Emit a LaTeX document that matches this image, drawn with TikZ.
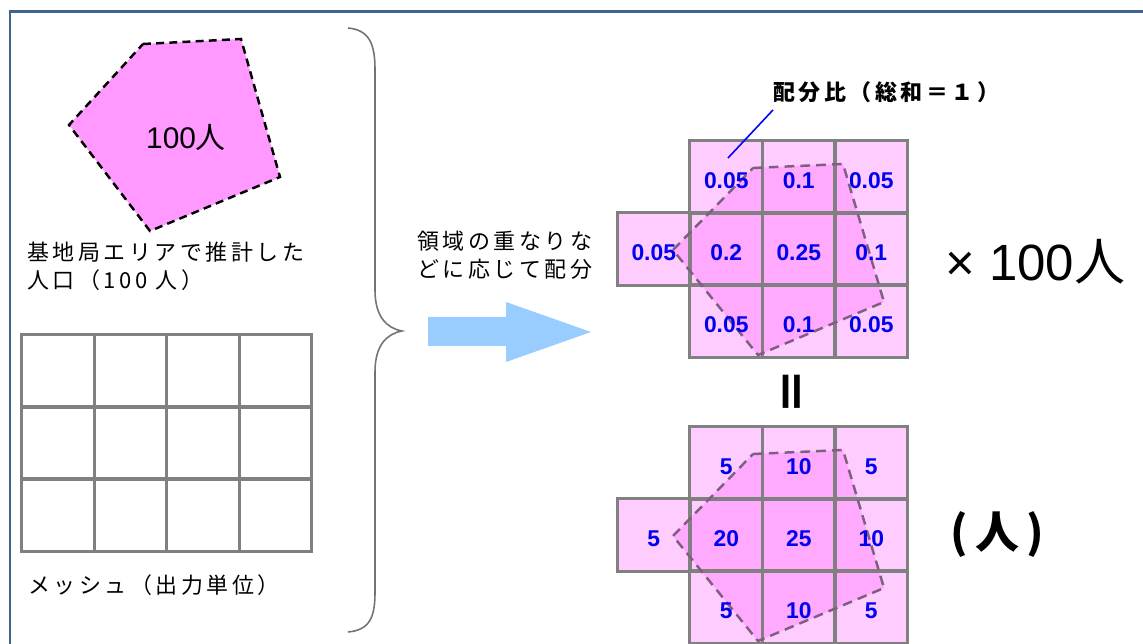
\documentclass[tikz,border=0pt]{standalone}
\usepackage{fontspec}
\setmainfont{Noto Sans CJK JP}
\newfontfamily\numfont{Liberation Sans}
\newfontfamily\spacedjp[LetterSpace=16]{Noto Sans CJK JP}
\definecolor{framecol}{HTML}{41648F}
\definecolor{areapink}{HTML}{FF99FF}
\definecolor{cellpink}{HTML}{FFCCFF}
\definecolor{overpink}{HTML}{FFAAFF}
\definecolor{gridgray}{HTML}{808080}
\definecolor{edgepurple}{HTML}{7F5F7F}
\definecolor{flowblue}{HTML}{99CCFF}
\definecolor{valblue}{HTML}{0000EE}
\begin{document}
\begin{tikzpicture}[x=0.02cm, y=-0.02cm,
    cell/.style={minimum size=1.45cm, inner sep=0pt, fill=cellpink},
    gridline/.style={draw=gridgray, line width=1.7pt},
    areaedge/.style={draw=edgepurple, line width=1.4pt, dash pattern=on 5.5pt off 3.5pt},
    val/.style={font=\numfont\bfseries\fontsize{13}{15}\selectfont, text=valblue, inner sep=0pt},
    jplabel/.style={font=\spacedjp\fontsize{12.5}{15.8}\selectfont, align=left, anchor=west, inner sep=0pt}]
\useasboundingbox (0,0) rectangle (1143,644);
%\tikzset{every node/.style={draw=red}}

% frame
\draw[framecol, line width=1.7pt] (10,644) -- (10,12) -- (1143,12);

% base station area
\filldraw[fill=areapink, draw=black, line width=1.4pt, dash pattern=on 4.5pt off 3pt]
    (143,44) -- (241,39) -- (280,177) -- (150,231) -- (69,125) -- cycle;
\node (areapop) at (186,137) {\fontsize{17}{19}\selectfont{\numfont 100}人};
\node[jplabel] (arealabel) at (27,266) {基地局エリアで推計した\\人口（100 人）};

% output mesh
\foreach \r in {0,1,2}
    \foreach \c in {0,1,2,3}
        \node[minimum size=1.45cm, inner sep=0pt, gridline] (m\r\c) at ({58+72.5*\c},{371+72*\r}) {};
\node[jplabel] (meshlabel) at (28,585) {メッシュ（出力単位）};

% brace
\draw[gridgray!90!black, line width=0.9pt]
    (348,28) .. controls (370,30) and (375,45) .. (375,70) -- (375,290)
    .. controls (375,316) and (386,328) .. (402,331)
    .. controls (386,334) and (375,346) .. (375,372) -- (375,592)
    .. controls (375,617) and (370,630) .. (348,632);

% flow arrow
\fill[flowblue] (428,317) -- (506,317) -- (506,302) -- (591,332) -- (506,362)
    -- (506,346) -- (428,346) -- cycle;
\node[jplabel] (flowlabel) at (417,255) {領域の重なりな\\どに応じて配分};

% ratio grid and result grid
\foreach \g/\dy in {t/0, b/286} {
    \begin{scope}[shift={(0,\dy)}]
        \foreach \r/\c in {0/1,0/2,0/3,1/0,1/1,1/2,1/3,2/1,2/2,2/3}
            \node[cell] (\g\r\c) at ({653.75+72.5*\c},{177+72*\r}) {};
        \fill[overpink] (753,168) -- (843,164) -- (884,302) -- (758,355) -- (673,250) -- cycle;
        \foreach \r/\c in {0/1,0/2,0/3,1/0,1/1,1/2,1/3,2/1,2/2,2/3}
            \draw[gridline] (\g\r\c.south west) rectangle (\g\r\c.north east);
        \draw[areaedge] (753,168) -- (843,164) -- (884,302) -- (758,355) -- (673,250) -- cycle;
    \end{scope}
}
\foreach \r/\c/\v in {0/1/0.05, 0/2/0.1, 0/3/0.05, 1/0/0.05, 1/1/0.2, 1/2/0.25,
                      1/3/0.1, 2/1/0.05, 2/2/0.1, 2/3/0.05}
    \node[val] at ([yshift=-2pt]t\r\c) {\v};
\foreach \r/\c/\v in {0/1/5, 0/2/10, 0/3/5, 1/0/5, 1/1/20, 1/2/25,
                      1/3/10, 2/1/5, 2/2/10, 2/3/5}
    \node[val] at ([yshift=-2pt]b\r\c) {\v};

% ratio label
\node[jplabel, font=\spacedjp\bfseries\fontsize{12.5}{15}\selectfont] (ratiolabel) at (773,92) {配分比（総和＝１）};
\coordinate (ratiotip) at (728,158);
\draw[blue, line width=0.9pt] ([yshift=-4pt]ratiolabel.south west) -- (ratiotip);

% factor and result unit
\node[anchor=west, inner sep=0pt] (factor) at (945,262)
    {\fontsize{29}{32}\selectfont{\numfont × 100}人};
\node[rotate=90, inner sep=0pt] (eqsign) at (797,392) {\bfseries\fontsize{27}{30}\selectfont ＝};
\node[anchor=west, inner sep=0pt] (unit) at (950,535) {\bfseries\fontsize{25}{28}\selectfont (\,人\,)};
\end{tikzpicture}
\end{document}
